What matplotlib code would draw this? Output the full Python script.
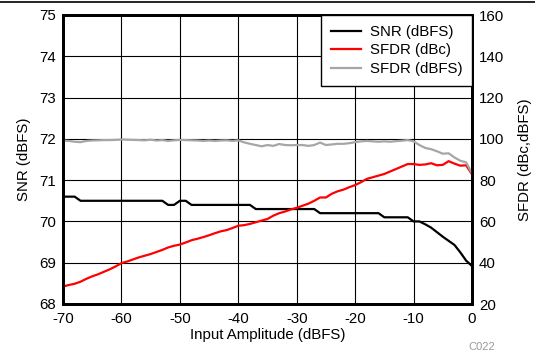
import matplotlib
matplotlib.use("Agg")
import matplotlib.pyplot as plt
from matplotlib.lines import Line2D

plt.rcParams['font.family'] = ['Liberation Sans', 'DejaVu Sans']
plt.rcParams['axes.unicode_minus'] = False

input_dbfs = list(range(-70, 1))

snr_dbfs = [70.6, 70.6, 70.6, 70.5, 70.5, 70.5, 70.5, 70.5, 70.5, 70.5,
            70.5, 70.5, 70.5, 70.5, 70.5, 70.5, 70.5, 70.5, 70.4, 70.4,
            70.5, 70.5, 70.4, 70.4, 70.4, 70.4, 70.4, 70.4, 70.4, 70.4,
            70.4, 70.4, 70.4, 70.3, 70.3, 70.3, 70.3, 70.3, 70.3, 70.3,
            70.3, 70.3, 70.3, 70.3, 70.2, 70.2, 70.2, 70.2, 70.2, 70.2,
            70.2, 70.2, 70.2, 70.2, 70.2, 70.1, 70.1, 70.1, 70.1, 70.1,
            70.0, 70.0, 69.93, 69.85, 69.74, 69.63, 69.53, 69.43, 69.25, 69.05,
            68.92]

sfdr_dbc = [28.5, 29.2, 29.8, 30.8, 32.2, 33.4, 34.4, 35.6, 36.8, 38.2,
            39.8, 40.6, 41.6, 42.6, 43.4, 44.2, 45.2, 46.2, 47.4, 48.2,
            48.8, 49.8, 50.9, 51.6, 52.4, 53.3, 54.3, 55.2, 55.8, 56.8,
            57.9, 58.2, 58.8, 59.6, 60.4, 61.2, 62.8, 64.0, 64.8, 65.8,
            66.6, 67.6, 68.6, 70.0, 71.6, 71.6, 73.4, 74.6, 75.4, 76.6,
            77.6, 79.0, 80.6, 81.4, 82.2, 83.0, 84.2, 85.4, 86.6, 87.8,
            87.8, 87.4, 87.6, 88.2, 87.2, 87.4, 89.2, 88.0, 87.0, 87.2,
            82.8]

sfdr_dbfs = [99.2, 99.0, 98.6, 98.4, 99.0, 99.2, 99.3, 99.4, 99.4, 99.5,
             99.7, 99.6, 99.5, 99.4, 99.3, 99.6, 99.2, 99.4, 99.0, 99.3,
             99.5, 99.4, 99.3, 99.2, 99.0, 99.2, 99.0, 99.2, 99.3, 99.0,
             99.3, 98.3, 97.6, 97.0, 96.4, 97.0, 96.6, 97.5, 97.0, 96.9,
             97.0, 97.0, 96.6, 97.0, 98.2, 97.0, 97.3, 97.6, 97.6, 97.9,
             98.4, 98.8, 99.0, 98.8, 98.6, 98.8, 98.6, 98.9, 99.1, 99.4,
             98.8, 97.0, 95.6, 95.0, 94.0, 92.8, 93.0, 91.0, 89.4, 88.6,
             83.3]

x_ticks = [-70, -60, -50, -40, -30, -20, -10, 0]
snr_ticks = [68, 69, 70, 71, 72, 73, 74, 75]
sfdr_ticks = [20, 40, 60, 80, 100, 120, 140, 160]

FS = 10.8

fig = plt.figure(figsize=(5.35, 3.54), dpi=100)
ax = fig.add_axes([63 / 535, 1 - 304 / 354, (472 - 63) / 535, (304 - 15) / 354])
ax2 = ax.twinx()

ax.set_xlim(-70, 0)
ax.set_ylim(68, 75)
ax2.set_ylim(20, 160)
ax.set_xticks(x_ticks)
ax.set_yticks(snr_ticks)
ax2.set_yticks(sfdr_ticks)

ax.grid(True, color='black', linewidth=0.8)
ax.set_axisbelow(True)

l1, = ax.plot(input_dbfs, snr_dbfs, color='black', linewidth=1.6, label='SNR (dBFS)')
l2, = ax2.plot(input_dbfs, sfdr_dbc, color='#ff0000', linewidth=1.6, label='SFDR (dBc)')
l3, = ax2.plot(input_dbfs, sfdr_dbfs, color='#a6a6a6', linewidth=1.6, label='SFDR (dBFS)')

for a in (ax, ax2):
    a.tick_params(length=0, labelsize=FS, pad=5)
    for s in a.spines.values():
        s.set_linewidth(2)
        s.set_color('black')
ax.tick_params(axis='x', pad=6)

ax.set_xlabel('Input Amplitude (dBFS)', fontsize=FS, labelpad=1)
ax.set_ylabel('SNR (dBFS)', fontsize=FS, labelpad=6)
ax2.set_ylabel('SFDR (dBc,dBFS)', fontsize=FS, labelpad=10)

leg = ax2.legend(handles=[l1, l2, l3], loc='upper right', fontsize=FS,
                 fancybox=False, framealpha=1, edgecolor='black',
                 borderaxespad=0, handlelength=2.0, handletextpad=0.6,
                 labelspacing=0.3, borderpad=0.65)
leg.get_frame().set_linewidth(1.0)

fig.add_artist(Line2D([0, 1], [1 - 1.5 / 354, 1 - 1.5 / 354], color='black',
                      linewidth=1.2, transform=fig.transFigure))
fig.text(468 / 535, 1 - 346.5 / 354, 'C022', fontsize=8, color='#999999',
         ha='left', va='center')

fig.savefig('out.png', dpi=100)
